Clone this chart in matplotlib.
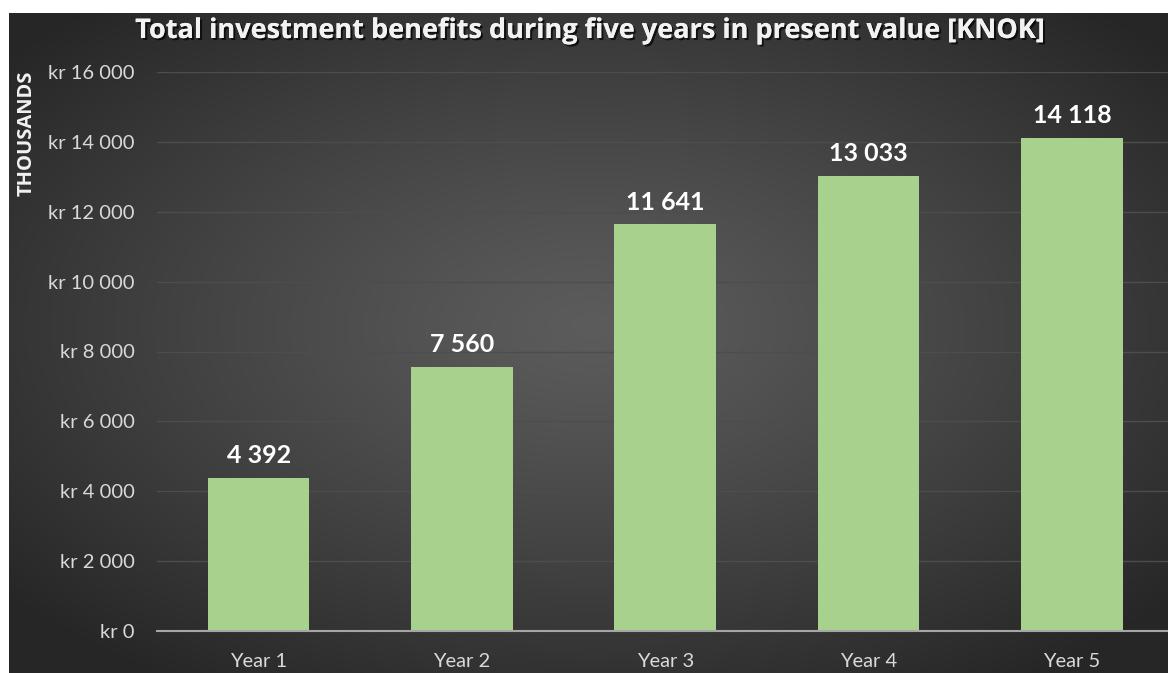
import numpy as np
import matplotlib.pyplot as plt
import matplotlib.patheffects as pe

# Data
years = ["Year 1", "Year 2", "Year 3", "Year 4", "Year 5"]
benefits = [4392, 7560, 11641, 13033, 14118]
yticks = [0, 2000, 4000, 6000, 8000, 10000, 12000, 14000, 16000]

plt.rcParams['font.family'] = ['Lato', 'DejaVu Sans']

fig = plt.figure(figsize=(11.68, 6.73), dpi=100)
fig.patch.set_facecolor('white')

# Dark radial gradient background
bg = fig.add_axes([9 / 1168, 0, 1, 1 - 13 / 673])
bg.set_axis_off()
gx, gy = np.meshgrid(np.linspace(-1, 1, 600), np.linspace(-1, 1, 350))
r = np.sqrt(gx ** 2 + (gy + 0.05) ** 2)
r = np.clip(r / 1.3, 0, 1)
shade = 0.36 - 0.21 * r ** 1.2
img = np.dstack([shade, shade, shade])
bg.imshow(img, aspect='auto', extent=[0, 1, 0, 1], interpolation='bilinear')
bg.set_xlim(0, 1)
bg.set_ylim(0, 1)

# Main chart
ax = fig.add_axes([157 / 1168, 1 - 631 / 673, (1173.5 - 157) / 1168, (631 - 72) / 673])
ax.patch.set_alpha(0)
x = np.arange(len(years))
ax.bar(x, benefits, width=0.5, color='#a9d18e', zorder=3)
ax.set_xlim(-0.5, 4.5)
ax.set_ylim(0, 16000)
ax.set_yticks(yticks)
ax.set_yticklabels(["kr " + f"{v:,}".replace(",", " ") for v in yticks])
ax.set_xticks(x)
ax.set_xticklabels(years)
ax.tick_params(axis='both', length=0, colors='#d9d9d9', labelsize=14.5)
ax.tick_params(axis='y', pad=16)
ax.tick_params(axis='x', pad=16)
ax.grid(axis='y', color='#4d4d4d', linewidth=1, zorder=0)
for s in ['top', 'right', 'left']:
    ax.spines[s].set_visible(False)
ax.spines['bottom'].set_color('#a6a6a6')
ax.spines['bottom'].set_linewidth(1.5)
ax.spines['bottom'].set_zorder(4)

# Value labels
for xi, v in zip(x, benefits):
    ax.text(xi, v + 300, f"{v:,}".replace(",", " "), ha='center', va='bottom',
            fontsize=18, fontweight='bold', color='white')

# Title with shadow
fig.text(590 / 1168, 1 - 31 / 673,
         "Total investment benefits during five years in present value [KNOK]",
         ha='center', va='center', fontsize=19.5, fontweight='bold', color='#f2f2f2',
         family=['Open Sans', 'DejaVu Sans'],
         path_effects=[pe.withSimplePatchShadow(offset=(1.5, -1.5), shadow_rgbFace='black', alpha=0.7),
                       pe.Normal()])

# Units label
fig.text(27 / 1168, 1 - 133 / 673, "THOUSANDS", rotation=90, ha='center', va='center',
         fontsize=14.5, fontweight='bold', color='#f2f2f2', family=['Open Sans', 'DejaVu Sans'])

fig.savefig("out.png", dpi=100)
